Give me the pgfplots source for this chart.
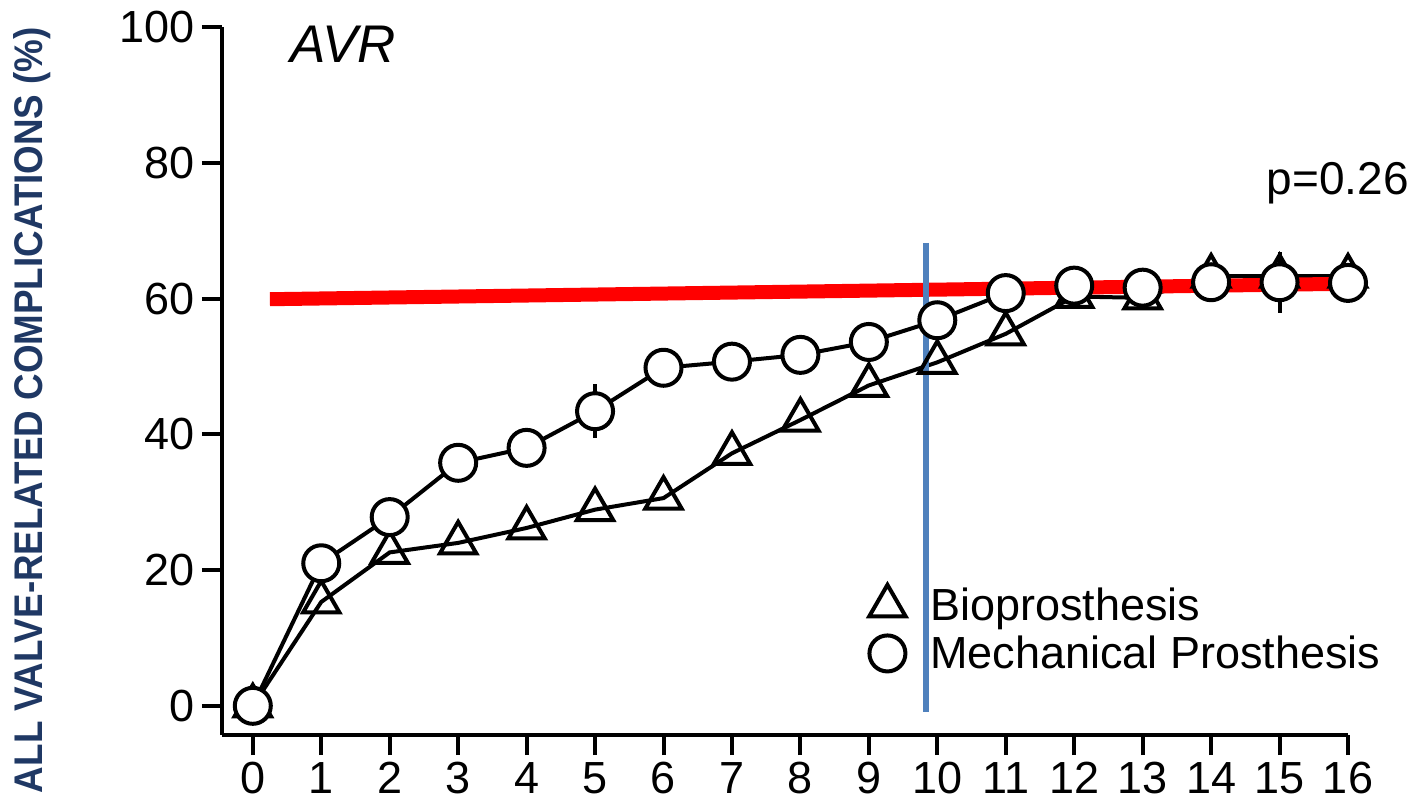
\documentclass[border=0pt]{standalone}
\usepackage{pgfplots}
\pgfplotsset{compat=1.18}
\usepackage{pgfplotstable}
\usepackage{fontspec}
\setmainfont{Liberation Sans}
\newfontfamily\labelfont[FakeStretch=0.92]{Liberation Sans}
\definecolor{navy}{RGB}{31,56,100}
\definecolor{vblue}{RGB}{79,129,189}

% years after AVR vs. cumulative complications (%)
\pgfplotstableread{
x y
0 0
1 15.3
2 22.6
3 24
4 26.2
5 28.9
6 30.6
7 37.2
8 42.1
9 47.2
10 50.6
11 54.8
12 60.3
13 60.1
14 63.3
15 63.3
16 63.3
}\bio

\pgfplotstableread{
x y e
0 0 0
1 21 0
2 27.8 0
3 35.8 0
4 38 0
5 43.4 4
6 49.8 0
7 50.7 0
8 51.7 0
9 53.6 0
10 56.8 0
11 60.8 0
12 61.9 0
13 61.6 0
14 62.4 0
15 62.4 4.5
16 62.3 0
}\mech

\begin{document}
\begin{tikzpicture}
\useasboundingbox (-111pt,-38pt) rectangle (598.5pt,367.5pt);
\begin{axis}[
    scale only axis,
    width=563pt, height=354pt,
    xmin=-0.45, xmax=16, ymin=-4.3, ymax=100,
    axis lines*=left,
    tick pos=left,
    axis line style={line width=2pt},
    xtick={0,...,16}, ytick={0,20,...,100},
    tick align=outside, major tick length=10pt,
    tick style={line width=2pt, black},
    ticklabel style={font=\fontsize{22.5}{26}\selectfont},
    /pgf/number format/assume math mode=true,
    clip=false,
    ylabel={\labelfont\bfseries ALL VALVE-RELATED COMPLICATIONS (\%)},
    ylabel style={at={(axis description cs:-0.169,0.459)}, anchor=center,
        color=navy, font=\fontsize{20}{23}\selectfont},
    legend style={at={(axis cs:9.0,18)}, anchor=north west, draw=none,
        fill=none, font=\fontsize{22.5}{27}\selectfont, row sep=2pt,
        inner sep=0pt, cells={anchor=west}},
    legend image code/.code={\draw[#1] plot coordinates {(0.3cm,0cm)};
        \path[draw=none] (0.3cm,0cm) -- (0.98cm,0cm);},
]
\addplot[black, line width=2pt, mark=triangle, mark size=10.5pt,
    mark options={fill=white, solid}] table[x=x, y=y] {\bio};
\addlegendentry{Bioprosthesis}
\addplot[black, line width=2pt, mark=*, mark size=9pt,
    mark options={fill=white, solid},
    error bars/.cd, y dir=both, y explicit,
    error bar style={line width=2pt}, error mark=none]
    table[x=x, y=y, y error=e] {\mech};
\addlegendentry{Mechanical Prosthesis}

\addplot[red, line width=7pt, forget plot] coordinates {(0.25,59.9) (16.15,62.2)};
\addplot[vblue, line width=3pt, forget plot] coordinates {(9.83,68.2) (9.83,-0.9)};

\node[anchor=base west, inner sep=0pt, font=\fontsize{26.5}{30}\selectfont\itshape]
    at (axis cs:0.54,94.7) {AVR};
\node[anchor=base, inner sep=0pt, font=\fontsize{23}{27}\selectfont]
    at (axis cs:15.85,75.3) {p=0.26};
\end{axis}
\end{tikzpicture}
\end{document}
